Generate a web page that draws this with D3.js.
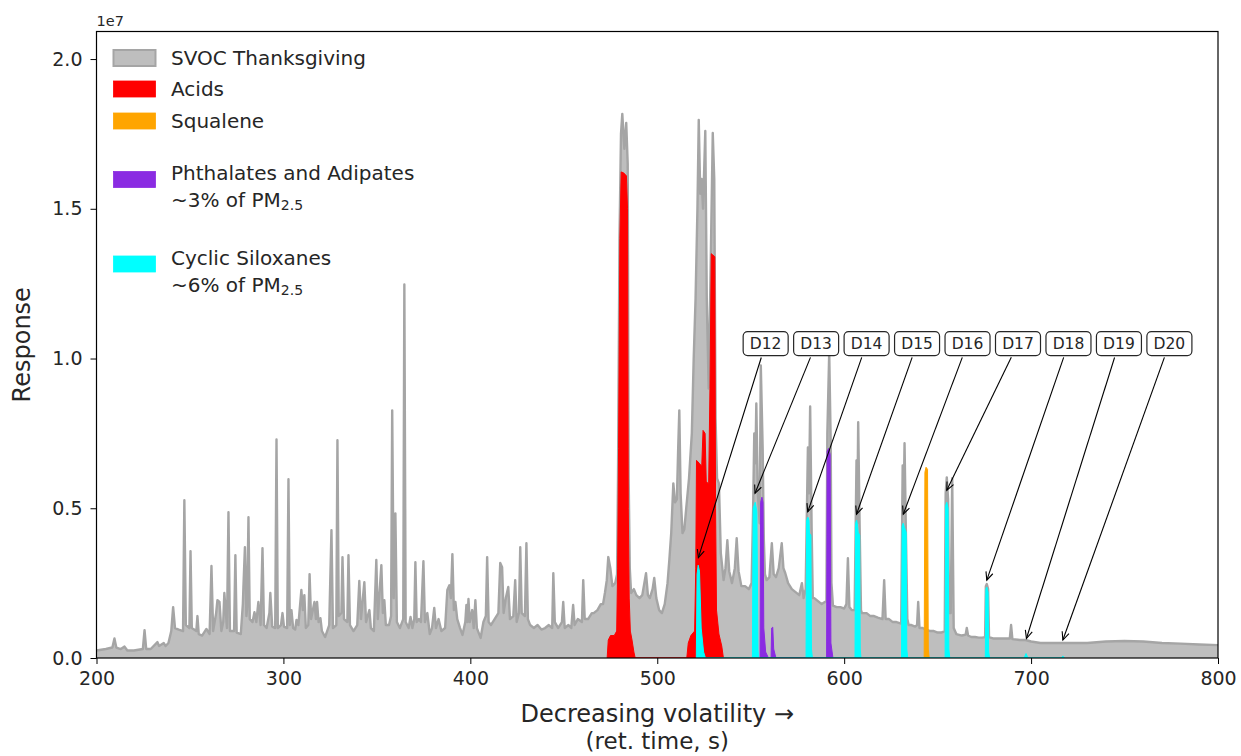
<!DOCTYPE html>
<html><head><meta charset="utf-8">
<script src="https://cdn.jsdelivr.net/npm/d3@7"></script>
<style>
body{margin:0;background:#fff}
text{font-family:"DejaVu Sans",sans-serif;fill:#262626}
</style>
</head><body>
<svg id="c" width="1241" height="756"></svg>
<script>
// ---- data (retention time s, response in units of 1e6) ----
const svocTrace = [
[200,0.25],[205,0.3],[208.5,0.35],[209.6,0.65],[210.6,0.35],[213,0.3],[215,0.38],[216.5,0.25],[220,0.25],[224.8,0.3],[225.7,0.93],[226.6,0.3],[229,0.3],[232.6,0.53],[233.5,0.4],[236,0.5],[237,0.4],[238.5,0.5],[240,0.9],[241,1.7],[242,1.0],[244,0.95],
[246.3,0.9],[247,5.27],[247.8,1.1],[249.7,1.0],[250.3,3.57],[251,1.0],[253.4,0.9],[254,1.4],[254.7,0.8],[256.5,0.75],[258.8,0.97],[260.5,0.8],[261.5,3.07],[262.4,0.9],[264,1.5],[264.7,1.93],[265.8,1.87],[266.8,0.9],[267.8,1.2],[268.4,2.17],[269.8,1.0],[270.6,4.87],[271.4,0.9],[273.6,0.9],[274.3,3.43],[275,0.85],[277.2,0.8],[278.3,1.8],[278.6,2.37],[279.4,3.7],[280.2,1.4],[280.6,1.7],[281.3,4.7],[282.0,1.3],[283.5,1.2],[284.5,1.53],[285.5,1.2],[286.6,1.87],[287.8,1.1],[288.8,3.67],[289.6,1.1],[291,1.0],[292.5,1.5],[293,2.17],[294,1.05],[295.6,1.0],[296.3,7.3],[297.0,1.0],[298.7,1.1],[299.5,1.5],[300.3,1.05],[302.0,1.0],[302.7,5.97],[303.4,1.1],[304.3,1.6],[305.2,1.0],[306.3,0.95],[307,1.27],[308,1.1],[309.6,2.27],[310.4,1.6],[311.2,2.1],[312,1.0],[313.3,1.1],[314,2.8],[314.8,1.3],[316.6,1.87],[317.4,1.3],[318,1.87],[318.8,1.2],[319.8,1.33],[320.6,0.9],[322.3,0.7],[324.5,1.1],[325.7,4.27],[326.5,1.0],[328.3,1.1],[328.9,7.27],[329.6,1.4],[331,1.5],[331.6,3.37],[332.4,1.3],[334.2,1.2],[334.8,3.43],[335.6,1.1],[337.5,0.9],[339.5,1.1],[340.6,2.57],[341.5,1.3],[343.3,2.53],[344.2,1.2],[346,1.6],[346.8,1.0],[348.4,0.9],[349.7,3.27],[350.5,1.3],[352.4,3.1],[353.2,1.5],[354,1.93],[354.8,1.1],[356.5,1.1],[357.6,1.4],[358.2,8.27],[359,2.0],[359.9,4.83],[360.7,1.2],[362.3,1.0],[364.1,1.3],[364.7,12.47],[365.4,1.2],[367,1.0],[368,1.37],[369,1.0],[370,1.3],[370.6,3.2],[371.3,1.2],[372.5,1.3],[373.6,1.2],[374.9,3.23],[375.7,1.2],[377,1.5],[378.3,0.8],[379.5,1.0],[380.7,1.67],[381.6,1.0],[383,1.3],[384.5,0.9],[386.5,1.0],[387.7,2.27],[388.8,2.43],[389.6,2.0],[390.4,3.47],[391.2,1.6],[392,1.87],[393,1.3],[394.5,1.0],[395.8,0.77],[397.3,1.2],[397.9,1.77],[398.5,1.2],[399,1.97],[399.7,1.2],[401,1.6],[401.8,1.0],[402.7,1.93],[403.5,1.0],[405.5,0.67],[407,1.2],[408.3,1.4],[409,3.37],[409.8,1.2],[411,1.1],[413,1.3],[415,1.5],[416,3.17],[417,3.03],[417.8,1.5],[419,2.0],[420.3,2.37],[421.2,1.3],[423,1.4],[424,2.6],[424.8,1.2],[426,1.5],[426.7,3.7],[427.5,1.5],[429.2,1.4],[430,3.83],[430.8,1.3],[432,1.1],[434,1.0],[436,1.1],[438,0.95],[440,1.0],[442,1.1],[443.8,1.0],[444.4,2.83],[445.2,1.2],[447,1.0],[449,1.2],[449.7,1.87],[450.5,1.0],[452.5,1.1],[454,1.0],[455,1.77],[455.8,1.1],[457.5,1.3],[459.7,1.2],[460.4,2.6],[461.2,1.3],[463,1.3],[465,1.5],[466,1.5],[468,1.6],[469.8,1.8],[471,1.8],[472,2.17],[473,2.6],[473.8,3.37],[474.9,3.0],[476,2.4],[477.5,2.5],[478.5,2.8],[479,6],[479.8,14],[480.6,17.5],[481.3,18.17],[482.4,17.0],[483.4,17.87],[484.2,16.5],[484.7,6],[485.3,3.0],[486,2.17],[487.5,2.3],[488.8,2.1],[490.5,2.0],[492,2.1],[494,2.83],[495,2.1],[496,2.0],[497.5,2.3],[498.4,2.67],[499.5,2.0],[501,1.6],[502.5,1.5],[504,1.8],[505.5,2.5],[506.5,3.3],[507.5,4.2],[508.6,5.83],[509.5,5.2],[510.5,5.3],[511.2,7.0],[511.8,8.27],[512.5,5.5],[513.5,4.17],[514.5,4.3],[515.5,5.0],[517,6.0],[518.5,7.5],[519.5,10],[520.5,12],[521.5,15],[522.2,17.97],[523.0,15.5],[523.7,16.0],[524.5,15],[525.7,17.6],[526.5,12],[527.5,9],[528.3,12],[529.7,17.53],[530.5,16],[531.2,8],[532,6],[533,5.83],[534,3.5],[535.5,2.6],[536.5,3.0],[537.5,3.93],[538.5,2.9],[540,2.5],[541.5,3.0],[542.5,4.0],[543.5,2.9],[545,2.4],[547,2.4],[549,2.3],[550.5,2.5],[551.3,5],[551.9,7.5],[552.5,6.5],[553,8.5],[553.8,5.5],[554.8,4.5],[555.4,9.77],[556.4,7],[557,4],[557.6,2.8],[558.5,2.6],[560,2.7],[561.3,3.83],[562.3,2.8],[563.5,2.7],[565,3.0],[566.6,3.83],[567.5,3.0],[568.5,2.83],[570,2.5],[572,2.3],[574,2.2],[576,2.1],[577.4,2.5],[578.3,2.0],[579.4,2.3],[580.6,7.03],[581.2,5.5],[581.8,8.4],[582.6,4.3],[583.2,2.0],[584,2.0],[586,1.9],[588,1.8],[590.5,1.9],[591,7.5],[592,10.2],[592.8,7.2],[593.2,2.5],[594,1.75],[596,1.7],[598,1.7],[600,1.65],[601.2,1.8],[602,3.33],[602.8,1.7],[604,1.6],[605.6,1.6],[606.6,6.6],[607.0,4.5],[607.5,7.87],[608.3,4.3],[609,1.6],[609.5,1.5],[612,1.5],[614,1.4],[616,1.4],[618,1.35],[620.5,1.3],[621.4,2.6],[622.2,1.3],[624,1.3],[626,1.2],[628,1.2],[630.5,1.15],[631.3,6.43],[631.8,5.0],[632.3,7.17],[633,4.3],[633.8,1.3],[634.5,1.1],[636,1.1],[638,1.05],[639,1.1],[639.6,1.87],[640.3,1.0],[642,1.0],[644,0.95],[646,0.9],[648,0.9],[650,0.85],[652,0.85],[653.8,0.9],[654.3,5.5],[654.9,6.03],[655.6,5.3],[656.1,1.5],[657,1.5],[657.8,6.0],[658.6,1.0],[660,0.8],[663,0.75],[665,0.78],[665.6,1.0],[666.3,0.75],[668,0.7],[670,0.7],[672,0.68],[674,0.68],[675.4,0.7],[675.8,2.4],[676.3,2.47],[677,2.3],[677.5,0.7],[680,0.65],[684,0.65],[688.6,0.65],[689.3,1.1],[690,0.63],[694,0.6],[697,0.6],[700,0.55],[705,0.5],[710,0.5],[720,0.5],[730,0.5],[740,0.55],[750,0.57],[760,0.55],[770,0.5],[780,0.48],[790,0.45],[800,0.43]
];
const acids = [
[473.2,0],[473.8,0.6],[475,0.75],[477,0.75],[478.3,0.9],[478.8,3.0],[479.3,7],[480,14],[480.7,16.23],[482.0,16.2],[483.5,16.1],[484.1,15],[484.5,5],[485,2.0],[485.6,0.9],[486.5,0.6],[487.5,0.2],[488.2,0],
[515.8,0],[516.6,0.5],[518,0.75],[520,0.9],[520.6,3],[521.0,6.6],[522.5,6.5],[523.8,6.4],[524.5,7.6],[525.6,7.5],[526.2,5.9],[527.5,5.8],[528.2,9],[528.9,13.5],[530.8,13.4],[531.2,5],[531.7,1.6],[533,0.8],[534.5,0.4],[535.4,0]
];
const squalene = [[642.8,0],[643.2,6.2],[643.8,6.37],[644.6,6.3],[645.0,0.3],[645.5,0]];
const phthalates = [
[555,0],[555.3,5.2],[556,5.37],[556.6,5.2],[557,1.0],[558,0.2],[559.5,0],
[560.9,0],[561.2,1.0],[561.8,1.03],[562.3,0.3],[563.5,0],
[590.6,0],[590.9,6.9],[591.7,7.0],[592.5,6.8],[592.9,0.5],[594,0]
];
const siloxanes = [
[520.9,0],[521.3,2.8],[521.9,3.1],[522.6,2.9],[523.5,1.0],[524.8,0.2],[525.8,0],
[550.9,0],[551.3,5.0],[552.4,5.2],[553.3,4.9],[553.9,0.3],[554.2,0],
[579.6,0],[579.9,4.6],[580.6,4.7],[581.2,4.6],[581.4,4.17],[582.2,4.1],[582.5,0.3],[583,0],
[605.8,0],[606.1,4.5],[606.7,4.6],[607.2,4.4],[607.5,4.2],[608.3,4.1],[608.6,0.3],[609,0],
[630.7,0],[631.0,4.4],[631.6,4.5],[632.3,4.35],[633.2,4.2],[633.5,0.3],[634,0],
[654,0],[654.3,5.1],[654.9,5.2],[655.6,5.0],[656,0.3],[656.5,0],
[675.5,0],[675.8,2.3],[676.3,2.37],[677,2.2],[677.3,0.2],[677.8,0],
[696.3,0],[697.3,0.15],[698.3,0],
[716,0],[717,0.06],[718,0]
];
const siloxaneNames = ["D12","D13","D14","D15","D16","D17","D18","D19","D20"];
const siloxaneRT =    [522.0,552.3,580.5,606.6,631.6,654.9,676.3,697.5,717.0];
const siloxaneTip =   [3.35,5.5,4.88,4.8,4.8,5.6,2.6,0.65,0.6];
const xTicks = [200,300,400,500,600,700,800];
const yTicks = [0,0.5e7,1.0e7,1.5e7,2.0e7];
const legendItems = [
  {lines:["SVOC Thanksgiving"], color:"#bebebe", edge:"#a5a5a5"},
  {lines:["Acids"], color:"#ff0000"},
  {lines:["Squalene"], color:"#ffa500"},
  {lines:["Phthalates and Adipates","~3% of PM"], color:"#8a2be2"},
  {lines:["Cyclic Siloxanes","~6% of PM"], color:"#00ffff"}
];

// ---- layout ----
const L=96.5, R=1218, T=31.5, B=658;
const svg = d3.select("#c");
const x = d3.scaleLinear().domain([200,800]).range([L,R]);
const y = d3.scaleLinear().domain([0,2.092e7]).range([B,T]);
const M = 1e6;

svg.append("defs").append("clipPath").attr("id","clip")
  .append("rect").attr("x",L).attr("y",T).attr("width",R-L).attr("height",B-T);
const g = svg.append("g").attr("clip-path","url(#clip)");

const area = d3.area().x(d=>x(d[0])).y0(y(0)).y1(d=>y(d[1]*M));
const line = d3.line().x(d=>x(d[0])).y(d=>y(d[1]*M));

g.append("path").datum(svocTrace).attr("d",area).attr("fill","#bebebe");
g.append("path").datum(svocTrace).attr("d",line).attr("fill","none")
  .attr("stroke","#a5a5a5").attr("stroke-width",2.4).attr("stroke-linejoin","round");

[[acids,"#ff0000"],[squalene,"#ffa500"],[phthalates,"#8a2be2"],[siloxanes,"#00ffff"]].forEach(([d,c])=>{
  g.append("path").datum(d).attr("d",area).attr("fill",c).attr("stroke",c).attr("stroke-width",1);
});

// axes
const fmtY = d => (d/1e7).toFixed(1);
const ax = svg.append("g").attr("transform",`translate(0,${B})`)
  .call(d3.axisBottom(x).tickValues(xTicks).tickFormat(d3.format("d")).tickSize(6).tickPadding(8));
const ay = svg.append("g").attr("transform",`translate(${L},0)`)
  .call(d3.axisLeft(y).tickValues(yTicks).tickFormat(fmtY).tickSize(6).tickPadding(8));
[ax,ay].forEach(a=>{
  a.select(".domain").remove();
  a.selectAll(".tick line").attr("stroke","#000").attr("stroke-width",1);
  a.selectAll(".tick text").attr("font-size",19).attr("font-family","DejaVu Sans").attr("fill","#262626");
});
svg.append("rect").attr("x",L).attr("y",T).attr("width",R-L).attr("height",B-T)
  .attr("fill","none").attr("stroke","#000").attr("stroke-width",1.2);

svg.append("text").attr("x",L).attr("y",T-6).attr("font-size",14.5).text("1e7");

svg.append("text").attr("transform",`translate(22,${(T+B)/2}) rotate(-90)`)
  .attr("text-anchor","middle").attr("dominant-baseline","central").attr("font-size",24).text("Response");
svg.append("text").attr("x",(L+R)/2).attr("y",714).attr("text-anchor","middle")
  .attr("dominant-baseline","central").attr("font-size",24).text("Decreasing volatility \u2192");
svg.append("text").attr("x",(L+R)/2).attr("y",741).attr("text-anchor","middle")
  .attr("dominant-baseline","central").attr("font-size",23).text("(ret. time, s)");

// legend
const legY = [[58],[89],[121],[173,200],[257.5,285]];
const patchY = [58,89,121,179.5,264];
legendItems.forEach((it,i)=>{
  svg.append("rect").attr("x",113.5).attr("y",patchY[i]-8).attr("width",42).attr("height",16)
    .attr("fill",it.color).attr("stroke",it.edge||it.color).attr("stroke-width",it.edge?2:0.8);
  it.lines.forEach((ln,j)=>{
    const t = svg.append("text").attr("x",171).attr("y",legY[i][j]).attr("dominant-baseline","central")
      .attr("font-size",20);
    t.append("tspan").text(ln);
    if(j===1){ t.append("tspan").attr("font-size",14).attr("dy",5).text("2.5"); }
  });
});

// annotations
const lyPx = y(1.05e7);
siloxaneNames.forEach((name,i)=>{
  const lx = x(558 + 27*i), ly = lyPx;
  const tx = x(siloxaneRT[i]), ty = y(siloxaneTip[i]*M);
  const hw=22.5, hh=12;
  const dx=tx-lx, dy=ty-ly, len=Math.hypot(dx,dy);
  const ux=dx/len, uy=dy/len;
  const t0 = Math.min(hw/Math.abs(ux||1e-9), hh/Math.abs(uy||1e-9)) + 2;
  const sx=lx+ux*t0, sy=ly+uy*t0;
  svg.append("line").attr("x1",sx).attr("y1",sy).attr("x2",tx).attr("y2",ty)
    .attr("stroke","#000").attr("stroke-width",1.1);
  const hl=8, hwid=3.6, nx=-uy, ny=ux;
  svg.append("path").attr("d",`M${tx-ux*hl+nx*hwid},${ty-uy*hl+ny*hwid}L${tx},${ty}L${tx-ux*hl-nx*hwid},${ty-uy*hl-ny*hwid}`)
    .attr("fill","none").attr("stroke","#000").attr("stroke-width",1.1);
  svg.append("rect").attr("x",lx-hw).attr("y",ly-hh).attr("width",2*hw).attr("height",2*hh)
    .attr("rx",4.5).attr("fill","#fff").attr("stroke","#262626").attr("stroke-width",1.2);
  svg.append("text").attr("x",lx).attr("y",ly+0.5).attr("text-anchor","middle")
    .attr("dominant-baseline","central").attr("font-size",15.5).text(name);
});
</script>
</body></html>
